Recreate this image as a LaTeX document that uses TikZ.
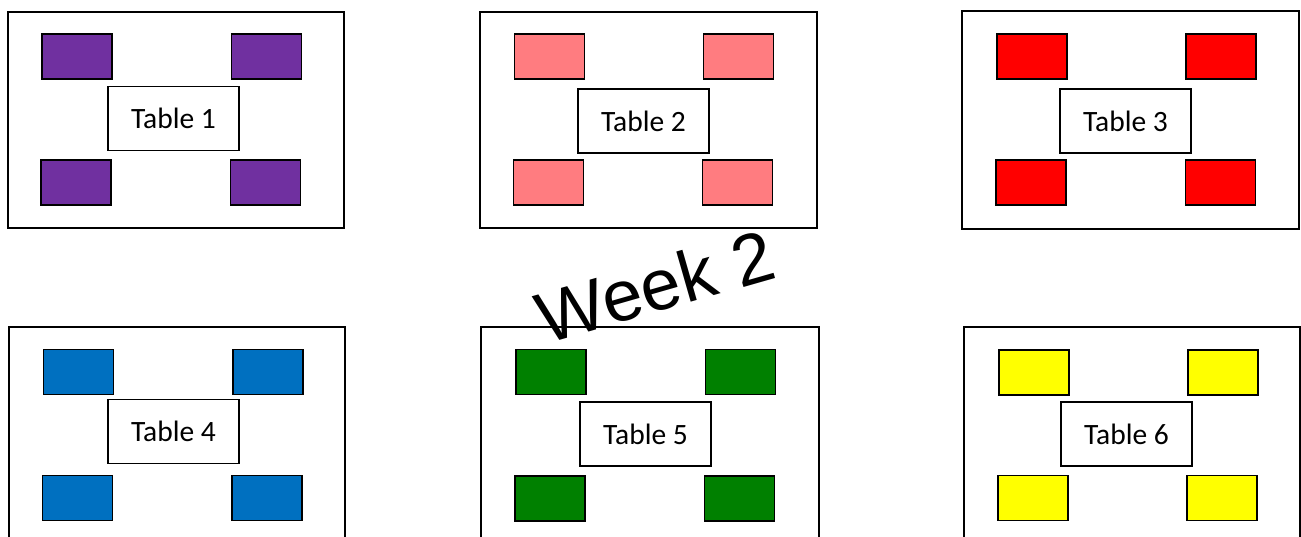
\documentclass[tikz,border=0pt]{standalone}
\usepackage{fontspec}
\setmainfont{Carlito}
\newfontfamily\weekfont{Liberation Sans}
\definecolor{cpurple}{HTML}{7030A0}
\definecolor{cpink}{HTML}{FF7C80}
\definecolor{cred}{HTML}{FF0000}
\definecolor{cblue}{HTML}{0070C0}
\definecolor{cgreen}{HTML}{008000}
\definecolor{cyellow}{HTML}{FFFF00}
\begin{document}
\begin{tikzpicture}[x=1pt,y=-1pt,
  room/.style={draw, line width=1.4pt, inner sep=0, minimum width=336pt, minimum height=216pt},
  chair/.style={draw, line width=1.5pt, inner sep=0, minimum width=70pt, minimum height=45pt},
  tablebox/.style={draw, line width=1.2pt, fill=white, inner sep=0, minimum width=131pt, minimum height=64pt, font=\fontsize{29.5}{32}\selectfont}]
\useasboundingbox (0,0) rectangle (1301,537);
\clip (0,0) rectangle (1301,537);
% rooms
\node[room] (r1) at (176,120) {};
\node[room, minimum width=337pt] (r2) at (648.5,120) {};
\node[room, minimum width=337pt, minimum height=218pt] (r3) at (1130.5,120) {};
\node[room] (r4) at (177,435) {};
\node[room, minimum width=338pt] (r5) at (650,435) {};
\node[room] (r6) at (1132,435) {};
% room 1
\node[chair, fill=cpurple] (c1a) at (77,56.5) {};
\node[chair, fill=cpurple] (c1b) at (266.5,56.5) {};
\node[chair, fill=cpurple] (c1c) at (76,182.5) {};
\node[chair, fill=cpurple] (c1d) at (265.5,182.5) {};
\node[tablebox] (t1) at (173.5,118.5) {Table 1};
% room 2
\node[chair, fill=cpink] (c2a) at (549.5,56.5) {};
\node[chair, fill=cpink] (c2b) at (738.5,56.5) {};
\node[chair, fill=cpink] (c2c) at (548.5,182.5) {};
\node[chair, fill=cpink] (c2d) at (737.5,182.5) {};
\node[tablebox] (t2) at (643.5,121) {Table 2};
% room 3
\node[chair, fill=cred] (c3a) at (1032,56.5) {};
\node[chair, fill=cred] (c3b) at (1221,56.5) {};
\node[chair, fill=cred] (c3c) at (1031,182.5) {};
\node[chair, fill=cred] (c3d) at (1220.5,182.5) {};
\node[tablebox] (t3) at (1125.5,121) {Table 3};
% room 4
\node[chair, fill=cblue] (c4a) at (78.5,372) {};
\node[chair, fill=cblue] (c4b) at (268,372) {};
\node[chair, fill=cblue] (c4c) at (77.5,498) {};
\node[chair, fill=cblue] (c4d) at (267,498) {};
\node[tablebox] (t4) at (173.5,431.5) {Table 4};
% room 5
\node[chair, fill=cgreen] (c5a) at (551,372) {};
\node[chair, fill=cgreen] (c5b) at (740.5,372) {};
\node[chair, fill=cgreen] (c5c) at (550,498.5) {};
\node[chair, fill=cgreen] (c5d) at (739.5,498.5) {};
\node[tablebox] (t5) at (645.5,434) {Table 5};
% room 6
\node[chair, fill=cyellow] (c6a) at (1034,372.5) {};
\node[chair, fill=cyellow] (c6b) at (1223,372.5) {};
\node[chair, fill=cyellow] (c6c) at (1033,498) {};
\node[chair, fill=cyellow] (c6d) at (1222,498) {};
\node[tablebox] (t6) at (1126.5,434) {Table 6};
% title
\node[rotate=16, inner sep=0, font=\weekfont\fontsize{72}{80}\selectfont] (wk) at (655,286) {Week 2};
\end{tikzpicture}
\end{document}
